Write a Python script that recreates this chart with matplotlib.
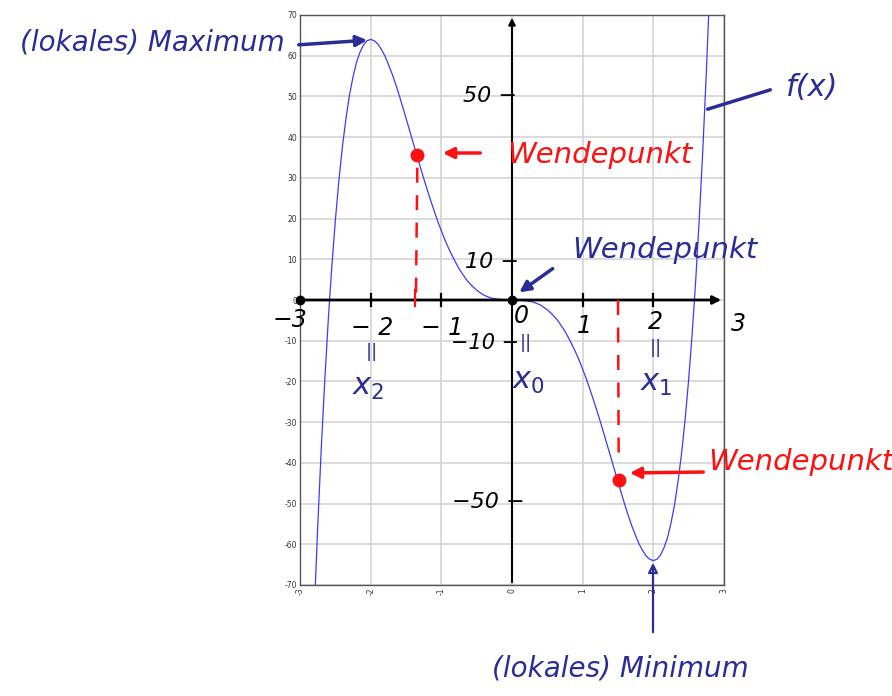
import matplotlib
matplotlib.use("Agg")
import matplotlib.pyplot as plt

# ---- data ----
x_vals = [-2.8, -2.75, -2.7, -2.65, -2.6, -2.55, -2.5, -2.45, -2.4, -2.35, -2.3, -2.25, -2.2,
          -2.15, -2.1, -2.05, -2.0, -1.95, -1.9, -1.85, -1.8, -1.75, -1.7, -1.65, -1.6, -1.55,
          -1.5, -1.45, -1.4, -1.35, -1.3, -1.25, -1.2, -1.15, -1.1, -1.05, -1.0, -0.95, -0.9,
          -0.85, -0.8, -0.75, -0.7, -0.65, -0.6, -0.55, -0.5, -0.4, -0.3, -0.2, -0.1,
          0.0, 0.1, 0.2, 0.3, 0.4, 0.5, 0.55, 0.6, 0.65, 0.7, 0.75, 0.8, 0.85, 0.9, 0.95,
          1.0, 1.05, 1.1, 1.15, 1.2, 1.25, 1.3, 1.35, 1.4, 1.45, 1.5, 1.55, 1.6, 1.65, 1.7,
          1.75, 1.8, 1.85, 1.9, 1.95, 2.0, 2.05, 2.1, 2.15, 2.2, 2.25, 2.3, 2.35, 2.4, 2.45,
          2.5, 2.55, 2.6, 2.65, 2.7, 2.75, 2.8]
y_vals = [-77.3, -55.9, -36.8, -19.9, -4.9, 8.2, 19.5, 29.3, 37.6, 44.5, 50.3, 54.8, 58.4,
          60.9, 62.7, 63.7, 64.0, 63.7, 62.9, 61.6, 60.0, 57.9, 55.7, 53.2, 50.5, 47.6,
          44.7, 41.7, 38.7, 35.8, 32.8, 29.9, 27.1, 24.4, 21.8, 19.3, 17.0, 14.8, 12.8,
          11.0, 9.3, 7.7, 6.4, 5.1, 4.1, 3.2, 2.4, 1.2, 0.5, 0.2, 0.0,
          0.0, -0.0, -0.2, -0.5, -1.2, -2.4, -3.2, -4.1, -5.1, -6.4, -7.7, -9.3, -11.0, -12.8, -14.8,
          -17.0, -19.3, -21.8, -24.4, -27.1, -29.9, -32.8, -35.8, -38.7, -41.7, -44.7, -47.6, -50.5, -53.2, -55.7,
          -57.9, -60.0, -61.6, -62.9, -63.7, -64.0, -63.7, -62.7, -60.9, -58.4, -54.8, -50.3, -44.5, -37.6, -29.3,
          -19.5, -8.2, 4.9, 19.9, 36.8, 55.9, 77.3]
infl_x = [-1.34, 1.51]
infl_y = [35.5, -44.1]
y_ticks = [-70, -60, -50, -40, -30, -20, -10, 0, 10, 20, 30, 40, 50, 60, 70]
x_ticks = [-3, -2, -1, 0, 1, 2, 3]

W, H = 892, 696
fig = plt.figure(figsize=(W / 100, H / 100), dpi=100)
ax = fig.add_axes([300 / W, 1 - 585 / H, 424 / W, 570 / H])

ax.plot(x_vals, y_vals, color="#3b3bff", lw=0.9, zorder=3, clip_on=True)
ax.set_xlim(-3, 3)
ax.set_ylim(-70, 70)
ax.set_xticks(x_ticks)
ax.set_yticks(y_ticks)
ax.set_xticklabels([str(v) for v in x_ticks], rotation=90, fontsize=5.5, color="#333333")
ax.set_yticklabels([str(v) for v in y_ticks], fontsize=5.5, color="#333333")
ax.tick_params(length=0, pad=2)
ax.grid(True, color="#d4d4d4", lw=1.2)
ax.set_axisbelow(True)
for s in ax.spines.values():
    s.set_color("#555555")
    s.set_linewidth(1.0)

# hand-drawn axes
ax.annotate("", xy=(3.0, 0), xytext=(-3.02, 0), xycoords="data",
            arrowprops=dict(arrowstyle="-|>", color="black", lw=2.0, mutation_scale=12),
            annotation_clip=False, zorder=5)
ax.annotate("", xy=(0, 70), xytext=(0, -70), xycoords="data",
            arrowprops=dict(arrowstyle="-|>", color="black", lw=1.5, mutation_scale=10),
            annotation_clip=False, zorder=5)
ax.plot([-3, 0], [0, 0], "o", color="black", ms=6, zorder=6, clip_on=False)
for t in [-2, -1, 1, 2]:
    ax.plot([t, t], [-1.5, 1.5], color="black", lw=1.6, zorder=5)

# inflection markers (red)
ax.plot(infl_x, infl_y, "o", color="#ff1010", ms=9, zorder=7)
ax.plot([infl_x[0], infl_x[0] - 0.02], [infl_y[0] - 3, 0], color="#ff1010", lw=1.8,
        ls=(0, (6, 5)), zorder=6)
ax.plot([infl_x[1] - 0.01, infl_x[1]], [0, infl_y[1] + 4], color="#ff1010", lw=1.8,
        ls=(0, (6, 5)), zorder=6)
ax.plot([infl_x[0] - 0.03, infl_x[0] - 0.03], [-1.5, 2.5], color="#ff1010", lw=1.6, zorder=6)

BLUE = "#2b2d96"
RED = "#ff1010"
FONT = dict(family="DejaVu Sans", style="italic")


def P(x, y):
    return (x, H - y)


def txt(x, y, s, color, size, **kw):
    fig.text(x / W, 1 - y / H, s, color=color, fontsize=size, ha="center", va="center",
             **FONT, **kw)


def arrow(x0, y0, x1, y1, color, lw=2.5, style="-|>", ms=16):
    ax.annotate("", xy=P(x1, y1), xytext=P(x0, y0), xycoords="figure pixels",
                textcoords="figure pixels",
                arrowprops=dict(arrowstyle=style, color=color, lw=lw, mutation_scale=ms,
                                fill=False if style == "-|>" else True),
                annotation_clip=False, zorder=8)


# annotations
txt(152, 42, "(lokales) Maximum", BLUE, 20)
arrow(296, 45, 370, 40, BLUE)
txt(812, 88, "f(x)", BLUE, 22)
arrow(773, 89, 705, 110, BLUE, style="-")
txt(600, 155, "Wendepunkt", RED, 21)
arrow(483, 153, 440, 153, RED)
txt(665, 250, "Wendepunkt", BLUE, 21)
arrow(555, 267, 517, 294, BLUE)
txt(801, 462, "Wendepunkt", RED, 21)
arrow(706, 472, 627, 473, RED)
txt(620, 668, "(lokales) Minimum", BLUE, 20)
arrow(653, 635, 653, 560, BLUE, lw=1.6, ms=14)

# handwritten axis numbers
for (px, py, s) in [(290, 320, "−3"), (372, 328, "− 2"), (442, 328, "− 1"), (521, 316, "0"),
                    (584, 326, "1"), (655, 322, "2"), (738, 324, "3")]:
    txt(px, py, s, "black", 17)
for (px, py, s) in [(490, 96, "50 −"), (492, 262, "10 −"), (485, 343, "−10 −"),
                    (488, 502, "−50 −")]:
    txt(px, py, s, "black", 15 if s == "−10 −" else 16)
for px, py in [(372, 352), (526, 343), (656, 348)]:
    txt(px, py, "||", BLUE, 13)
txt(368, 388, r"$x_2$", BLUE, 22)
txt(528, 382, r"$x_0$", BLUE, 22)
txt(656, 384, r"$x_1$", BLUE, 22)

fig.savefig("out.png", dpi=100, facecolor="white")
